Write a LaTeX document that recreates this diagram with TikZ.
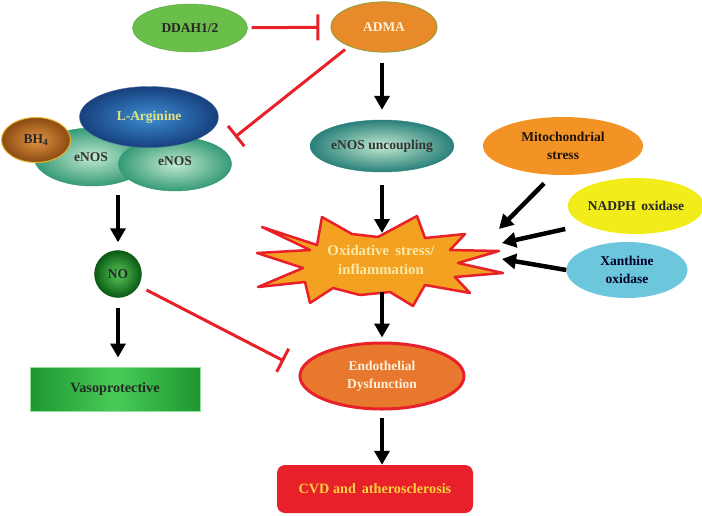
\documentclass[tikz,border=0pt]{standalone}
\usepackage{fontspec}
\setmainfont{Liberation Serif}
\usetikzlibrary{shapes.geometric,arrows.meta}

\definecolor{ddahgreen}{HTML}{6ABE4A}
\definecolor{admaorange}{HTML}{E88A2A}
\definecolor{admaedge}{HTML}{A89A3A}
\definecolor{paletext}{HTML}{FFF0D8}
\definecolor{enoslight}{HTML}{C2EAD0}
\definecolor{enosdark}{HTML}{359A76}
\definecolor{uncdark}{HTML}{2A807A}
\definecolor{arglight}{HTML}{3C8ED2}
\definecolor{argdark}{HTML}{17407E}
\definecolor{argtext}{HTML}{E8E27A}
\definecolor{bhlight}{HTML}{E29444}
\definecolor{bhdark}{HTML}{8A4A10}
\definecolor{nolight}{HTML}{58C858}
\definecolor{nodark}{HTML}{0A5A14}
\definecolor{vasolight}{HTML}{48CC58}
\definecolor{vasodark}{HTML}{1E9630}
\definecolor{inhibred}{HTML}{E8202A}
\definecolor{starfill}{HTML}{F4A021}
\definecolor{startext}{HTML}{FBE9A8}
\definecolor{endofill}{HTML}{E8782E}
\definecolor{cvdtext}{HTML}{F8D23A}
\definecolor{mitofill}{HTML}{F39325}
\definecolor{nadphfill}{HTML}{F2EC1A}
\definecolor{xanfill}{HTML}{6CC6DC}

\begin{document}
\begin{tikzpicture}[x=1pt, y=-1pt,
    blob/.style={ellipse, inner sep=0pt, align=center,
      font=\fontsize{13.5}{18}\selectfont\bfseries},
    push/.style={-{Triangle[length=14pt,width=15pt]}, line width=4.5pt, black},
    block/.style={-{Bar[width=26pt]}, line width=3pt, inhibred}]
    \useasboundingbox (0,0) rectangle (702,515);

    % Top row: DDAH1/2 inhibits ADMA
    \node[blob, fill=ddahgreen, draw=ddahgreen!85!black, minimum width=115pt, minimum height=48pt, text=black!85] (ddah) at (190,28) {DDAH1/2};
    \node[blob, fill=admaorange, draw=admaedge, line width=1.2pt, minimum width=106pt, minimum height=50pt, text=paletext] (adma) at (384,27) {ADMA};
    \draw[block, shorten <=4pt, shorten >=11pt] (ddah) -- (adma);

    % eNOS complex with L-Arginine and BH4
    \node[blob, draw=enosdark, inner color=enoslight, outer color=enosdark, minimum width=116pt, minimum height=58pt] (enosL) at (92,157) {};
    \node[blob, draw=enosdark, inner color=enoslight, outer color=enosdark, minimum width=113pt, minimum height=54pt] (enosR) at (175,164) {};
    \node[font=\fontsize{13.5}{18}\selectfont\bfseries, text=black!80] at (91,157) {eNOS};
    \node[font=\fontsize{13.5}{18}\selectfont\bfseries, text=black!80] at (175,161) {eNOS};
    \node[blob, draw=argdark!80!white, inner color=arglight, outer color=argdark, minimum width=139pt, minimum height=61pt, text=argtext] (arg) at (149,117) {L-Arginine};
    \node[blob, draw=bhlight!70!yellow, line width=1pt, inner color=bhlight, outer color=bhdark, minimum width=69pt, minimum height=45pt, text=black!85] (bh) at (36,140) {BH$_\mathbf{4}$};

    % ADMA blocks the complex
    \coordinate (arghit) at (235,137);
    \draw[block, shorten <=5pt] (adma.209) -- (arghit);

    % Left column: NO and vasoprotection
    \node[blob, circle, draw=nodark, inner color=nolight, outer color=nodark, minimum size=47pt, text=black!85] (no) at (118,274) {NO};
    \node[rectangle, draw=vasolight!60!white, line width=1pt, left color=vasodark, right color=vasodark, middle color=vasolight, minimum width=170pt, minimum height=44pt, font=\fontsize{14.2}{18}\selectfont\bfseries, text=black!85] (vaso) at (115,389) {Vasoprotective};
    \draw[push, shorten <=9pt, shorten >=8pt] (enosL.south -| no.north) -- (no.north);
    \draw[push, shorten <=10pt, shorten >=9pt] (no.south) -- (no.south |- vaso.north);

    % Middle column
    \node[blob, draw=uncdark, inner color=enoslight, outer color=uncdark, minimum width=142pt, minimum height=52pt, text=black!80] (uncoup) at (382,146) {eNOS uncoupling};
    \draw[push, shorten <=10pt, shorten >=10pt] (adma.south -| uncoup.north) -- (uncoup.north);

    % Starburst for oxidative stress
    \draw[inhibred, fill=starfill, line width=2.5pt, line join=round]
      (262,227) -- (317,245) -- (322,217) -- (352,234) -- (378,237) -- (417,216)
      -- (425,238) -- (465,234) -- (450,250) -- (499,251) -- (458,263) -- (503,273)
      -- (455,277) -- (470,293) -- (425,285) -- (413,306) -- (390,292) -- (360,295)
      -- (333,288) -- (310,303) -- (305,282) -- (258,287) -- (303,268) -- (257,253)
      -- (310,250) -- cycle;
    \node[font=\fontsize{14.8}{19}\selectfont\bfseries, text=startext, align=center] (ox) at (381,260) {Oxidative \,stress/\\inflammation};
    \coordinate (oxtop) at (382,233);
    \coordinate (oxbot) at (382,292);
    \draw[push, shorten <=13pt] (uncoup.south) -- (oxtop);

    \node[blob, fill=endofill, draw=inhibred, line width=3pt, minimum width=164pt, minimum height=66pt, text=paletext] (endo) at (382,376) {Endothelial\\Dysfunction};
    \draw[push, shorten >=4pt] (oxbot) -- (endo.north);

    \node[rectangle, rounded corners=8pt, fill=inhibred, minimum width=196pt, minimum height=48pt, font=\fontsize{14.2}{18}\selectfont\bfseries, text=cvdtext] (cvd) at (375,489) {CVD and \,atherosclerosis};
    \draw[push, shorten <=7pt] (endo.south) -- (endo.south |- cvd.north);

    % NO blocks endothelial dysfunction
    \coordinate (endohit) at (284,361);
    \draw[block, shorten <=9pt] (no.-30) -- (endohit);

    % Other sources of oxidative stress
    \node[blob, fill=mitofill, minimum width=160pt, minimum height=58pt, text=black!85!brown] (mito) at (563,146) {Mitochondrial\\stress};
    \node[blob, fill=nadphfill, minimum width=130pt, minimum height=56pt, text=black!85] (nadph) at (636,206) {NADPH \,oxidase};
    \node[blob, fill=xanfill, minimum width=121pt, minimum height=56pt, text=black!85!blue] (xan) at (627,270) {Xanthine\\oxidase};

    \coordinate (hit1) at (499,229);
    \coordinate (hit2) at (502,243);
    \coordinate (hit3) at (502,259);
    \draw[push, shorten <=12pt] (mito.250) -- (hit1);
    \draw[push, shorten <=20pt] (nadph.200) -- (hit2);
    \draw[push] (xan.west) -- (hit3);
\end{tikzpicture}
\end{document}
